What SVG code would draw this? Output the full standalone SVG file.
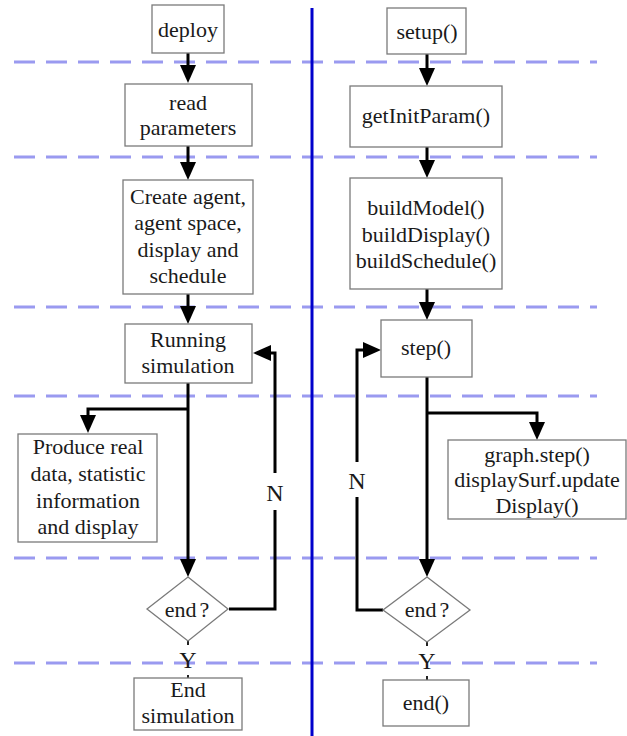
<svg xmlns="http://www.w3.org/2000/svg" width="627" height="736" viewBox="0 0 627 736">
<style>
.box{fill:#fff;stroke:#7a7a7a;stroke-width:1.3}
.t{font-family:"Liberation Serif","Times New Roman",serif;font-size:22px;fill:#1a1a1a;text-anchor:middle}
.lbl{font-family:"Liberation Serif","Times New Roman",serif;font-size:24px;fill:#1a1a1a;text-anchor:middle}
.dash{stroke:#9a9af0;stroke-width:3;stroke-dasharray:21 11;fill:none}
.c{stroke:#000;stroke-width:3;fill:none}
.a{marker-end:url(#ah)}
.tick{stroke:#222;stroke-width:2}
</style>
<defs>
<marker id="ah" markerUnits="userSpaceOnUse" markerWidth="20" markerHeight="18" viewBox="0 -9 19 18" refX="0" refY="0" orient="auto">
<path d="M0,-8 L18,0 L0,8 z" fill="#000"/>
</marker>
</defs>
<rect width="627" height="736" fill="#fff"/>
<g id="guides">
<path class="dash" d="M14,62 H597 M14,157 H597 M14,307 H597 M14,396 H597 M14,558 H597 M14,663 H597"/>
<line x1="312" y1="8" x2="312" y2="736" stroke="#0000cc" stroke-width="3"/>
</g>
<g id="connectors">
<path class="c a" d="M188,53 V65"/>
<path class="c a" d="M188,146 V162"/>
<path class="c a" d="M188,294 V306"/>
<path class="c a" d="M188,383 V559"/>
<path class="c a" d="M188,409 H88 V415"/>
<path class="c" d="M229,609 H275 V510"/>
<path class="c a" d="M275,473 V353 H271"/>
<path class="c a" d="M427,54 V68"/>
<path class="c a" d="M427,147 V160"/>
<path class="c a" d="M427,289 V302"/>
<path class="c a" d="M427,377 V559"/>
<path class="c a" d="M427,413 H537 V422"/>
<path class="c" d="M383,610 H357 V497"/>
<path class="c a" d="M357,462 V350 H363"/>
<path class="tick" d="M188,641 V645 M188,675 V679 M427,642 V646 M427,676 V680"/>
<text class="lbl" x="275" y="501">N</text>
<text class="lbl" x="357" y="489">N</text>
<text class="lbl" x="188" y="668">Y</text>
<text class="lbl" x="427" y="669">Y</text>
</g>
<g id="deploy"><rect class="box" x="152" y="5" width="72" height="48"/><text class="t" x="188" y="37">deploy</text></g>
<g id="read"><rect class="box" x="125" y="84" width="127" height="62"/><text class="t" x="188" y="110">read</text><text class="t" x="188" y="135">parameters</text></g>
<g id="create"><rect class="box" x="123" y="180" width="130" height="114"/><text class="t" x="188" y="204">Create agent,</text><text class="t" x="188" y="230">agent space,</text><text class="t" x="188" y="257">display and</text><text class="t" x="188" y="283">schedule</text></g>
<g id="running"><rect class="box" x="125" y="324" width="127" height="59"/><text class="t" x="188" y="347">Running</text><text class="t" x="188" y="373">simulation</text></g>
<g id="produce"><rect class="box" x="18" y="434" width="139" height="108"/><text class="t" x="88" y="454">Produce real</text><text class="t" x="88" y="481">data, statistic</text><text class="t" x="88" y="508">information</text><text class="t" x="88" y="534">and display</text></g>
<g id="end1"><polygon class="box" points="188,577 228,609 188,641 147,609"/><text class="t" x="187" y="617">end<tspan dx="3">?</tspan></text></g>
<g id="endsim"><rect class="box" x="134" y="678" width="108" height="52"/><text class="t" x="188" y="697">End</text><text class="t" x="188" y="723">simulation</text></g>
<g id="setup"><rect class="box" x="387" y="8" width="79" height="46"/><text class="t" x="427" y="39">setup()</text></g>
<g id="getinit"><rect class="box" x="350" y="86" width="152" height="61"/><text class="t" x="426" y="123">getInitParam()</text></g>
<g id="build"><rect class="box" x="350" y="178" width="152" height="111"/><text class="t" x="426" y="215">buildModel()</text><text class="t" x="426" y="242">buildDisplay()</text><text class="t" x="426" y="268">buildSchedule()</text></g>
<g id="step"><rect class="box" x="381" y="320" width="91" height="57"/><text class="t" x="426" y="355">step()</text></g>
<g id="graph"><rect class="box" x="448" y="440" width="178" height="79"/><text class="t" x="537" y="462">graph.step()</text><text class="t" x="537" y="487">displaySurf.update</text><text class="t" x="537" y="513">Display()</text></g>
<g id="end2"><polygon class="box" points="427,577 470,610 427,642 383,610"/><text class="t" x="427" y="617">end<tspan dx="3">?</tspan></text></g>
<g id="endfn"><rect class="box" x="383" y="680" width="86" height="46"/><text class="t" x="426" y="710">end()</text></g>
</svg>
